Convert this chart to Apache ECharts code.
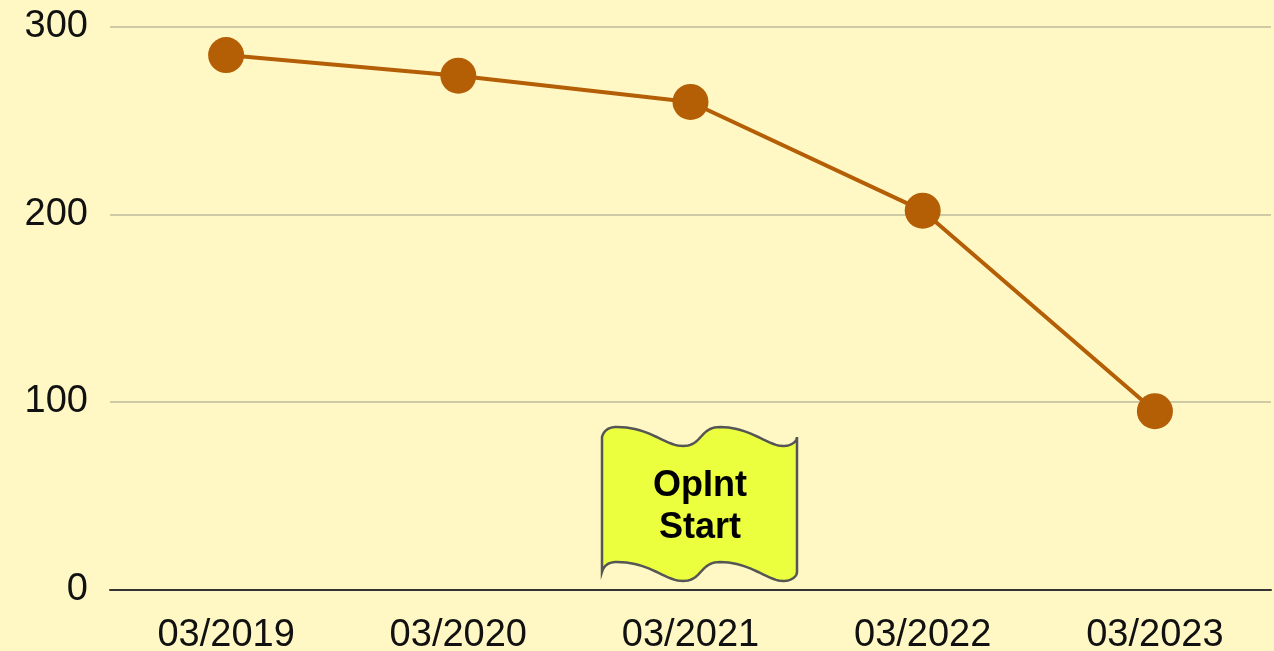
<!DOCTYPE html>
<html>
<head>
<meta charset="utf-8">
<script src="https://cdn.jsdelivr.net/npm/echarts@6/dist/echarts.min.js"></script>
<style>
html,body{margin:0;padding:0;background:#FFF8C5;}
#chart{width:1274px;height:651px;}
</style>
</head>
<body>
<div id="chart"></div>
<script>
var categories = ['03/2019', '03/2020', '03/2021', '03/2022', '03/2023'];
var values = [285, 274, 260, 202, 95];
var yTicks = [0, 100, 200, 300];
var noteText = 'OpInt\nStart';

// wavy "tape" outline built from cubic segments (decoration only)
function cubic(p0, p1, p2, p3, n, out) {
  for (var i = 1; i <= n; i++) {
    var t = i / n, u = 1 - t;
    out.push([
      u*u*u*p0[0] + 3*u*u*t*p1[0] + 3*u*t*t*p2[0] + t*t*t*p3[0],
      u*u*u*p0[1] + 3*u*u*t*p1[1] + 3*u*t*t*p2[1] + t*t*t*p3[1]
    ]);
  }
}
function buildTape() {
  var pts = [[602, 437]];
  var segsTop = [
    [[602,437],[604,430],[609,427],[617,427]],
    [[617,427],[650,427],[665,446],[683,446]],
    [[683,446],[702,446],[700,427],[720,427]],
    [[720,427],[750,427],[768,446],[783,446]],
    [[783,446],[792,446],[797,441],[797,437]]
  ];
  segsTop.forEach(function (s) { cubic(s[0], s[1], s[2], s[3], 20, pts); });
  pts.push([797, 572]);
  var segsBot = [
    [[797,572],[797,576],[792,581],[783,581]],
    [[783,581],[768,581],[750,562],[720,562]],
    [[720,562],[700,562],[702,581],[683,581]],
    [[683,581],[665,581],[650,562],[617,562]],
    [[617,562],[609,562],[604,565],[602,572]]
  ];
  segsBot.forEach(function (s) { cubic(s[0], s[1], s[2], s[3], 20, pts); });
  return pts;
}

var chart = echarts.init(document.getElementById('chart'), null, {renderer: 'canvas'});
var font = '"Liberation Sans", Arial, sans-serif';
chart.setOption({
  backgroundColor: '#FFF8C5',
  animation: false,
  grid: {left: 110, right: 3, top: 27, bottom: 61.7, containLabel: false, outerBoundsMode: 'none'},
  xAxis: {
    type: 'category',
    data: categories,
    boundaryGap: true,
    axisLine: {show: true, lineStyle: {color: '#333333', width: 2}},
    axisTick: {show: false},
    axisLabel: {color: '#111', fontSize: 38, fontFamily: font, margin: 27}
  },
  yAxis: {
    type: 'value',
    min: yTicks[0],
    max: yTicks[yTicks.length - 1],
    interval: yTicks[1] - yTicks[0],
    axisLine: {show: false},
    axisTick: {show: false},
    splitLine: {lineStyle: {color: '#CFCAA6', width: 2}},
    axisLabel: {color: '#111', fontSize: 38, fontFamily: font, margin: 22, padding: [6, 0, 0, 0]}
  },
  series: [{
    type: 'line',
    data: values,
    symbol: 'circle',
    symbolSize: 36,
    lineStyle: {color: '#B45F06', width: 4},
    itemStyle: {color: '#B45F06'},
    z: 5
  }],
  graphic: [{
    type: 'polygon',
    z: 10,
    shape: {points: buildTape()},
    style: {fill: '#EBFF3F', stroke: '#555555', lineWidth: 2.5}
  }, {
    type: 'text',
    z: 11,
    x: 700,
    y: 507,
    style: {
      text: noteText,
      fill: '#000',
      font: 'bold 36px "Liberation Sans", Arial, sans-serif',
      lineHeight: 42,
      align: 'center',
      verticalAlign: 'middle'
    }
  }]
});
</script>
</body>
</html>
